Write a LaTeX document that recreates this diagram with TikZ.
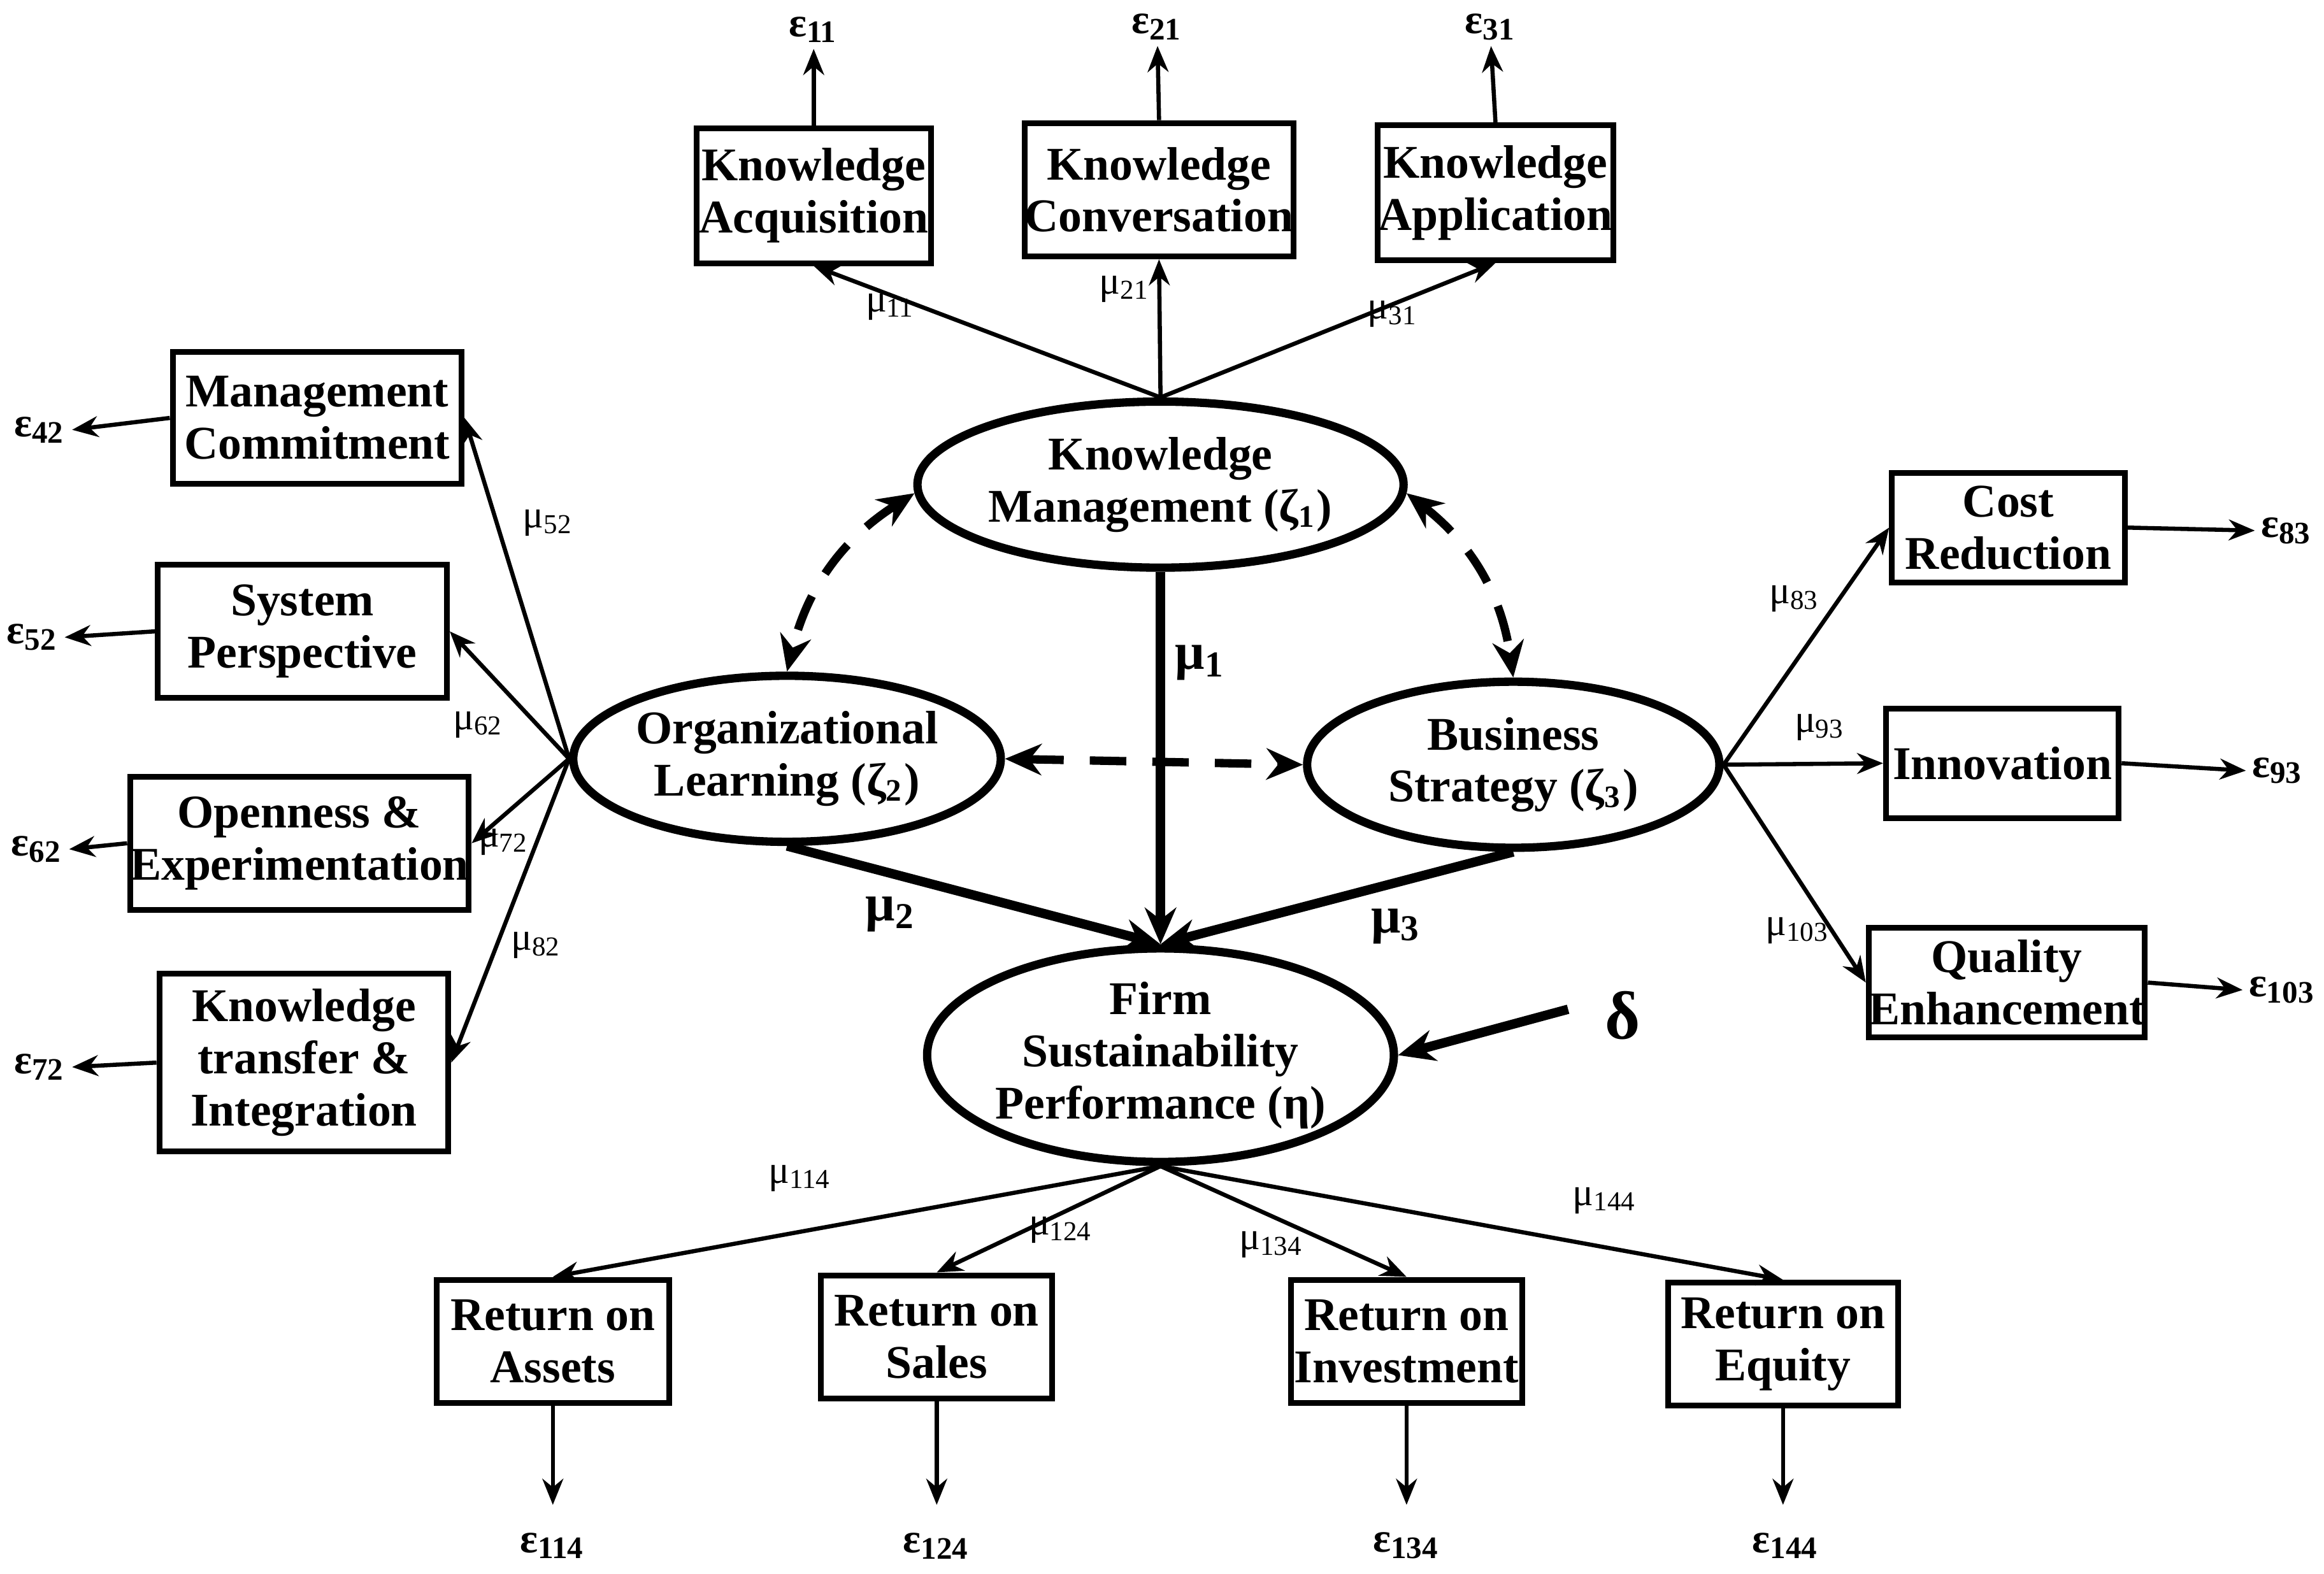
\documentclass[tikz,border=0pt]{standalone}
\usepackage{fontspec}
\setmainfont{Liberation Serif}
\usetikzlibrary{shapes.geometric,arrows.meta}
\begin{document}
\begin{tikzpicture}[x=0.01cm,y=-0.01cm,
  box/.style={draw,line width=1.1pt,align=center,font=\fontsize{9}{10}\selectfont\bfseries,inner sep=0pt},
  lat/.style={draw,ellipse,line width=1.6pt,align=center,font=\fontsize{9}{10}\selectfont\bfseries,inner sep=0pt},
  err/.style={font=\fontsize{8}{9}\selectfont\bfseries,inner sep=1pt},
  lab/.style={font=\fontsize{7.5}{9}\selectfont,inner sep=0pt},
  big/.style={font=\fontsize{10}{11}\selectfont\bfseries,inner sep=0pt},
  ar/.style={-{Stealth[length=5pt,width=4pt]},line width=0.8pt},
  thk/.style={-{Stealth[length=7pt,width=6pt]},line width=1.8pt},
  dsh/.style={{Stealth[length=7pt,width=6pt]}-{Stealth[length=7pt,width=6pt]},line width=1.6pt,dash pattern=on 7pt off 5pt}]
\useasboundingbox (0,0) rectangle (1568,1062);
\def\bx#1#2#3#4#5#6{\node[box,minimum width=#4*0.01cm,minimum height=#5*0.01cm] (#1) at (#2,#3) {#6};}
\bx{ka}{549}{132}{158}{91}{Knowledge\\Acquisition}
\bx{kc}{782}{128}{156}{90}{Knowledge\\Conversation}
\bx{kap}{1009}{130}{159}{91}{Knowledge\\Application}
\bx{mc}{214}{282}{195}{89}{Management\\Commitment}
\bx{sp}{204}{426}{195}{90}{System\\Perspective}
\bx{oe}{202}{569}{195}{90}{Openness \&\\Experimentation}
\bx{kt}{205}{717}{195}{120}{Knowledge\\transfer \&\\Integration}
\bx{cr}{1355}{356}{157}{74}{Cost\\Reduction}
\bx{inn}{1351}{515}{157}{74}{Innovation}
\bx{qe}{1354}{663}{156}{74}{Quality\\Enhancement}
\bx{ra}{373}{905}{157}{83}{Return on\\Assets}
\bx{rs}{632}{902}{156}{83}{Return on\\Sales}
\bx{ri}{949}{905}{156}{83}{Return on\\Investment}
\bx{re}{1203}{907}{155}{83}{Return on\\Equity}
\node[lat,minimum width=2.82cm,minimum height=1.12cm] (km) at (783,327) {Knowledge\\Management (ζ\textsubscript{1})};
\node[lat,minimum width=2.76cm,minimum height=1.12cm] (ol) at (531,512) {Organizational\\Learning (ζ\textsubscript{2})};
\node[lat,minimum width=2.78cm,minimum height=1.12cm] (bs) at (1021,516) {Business\\Strategy (ζ\textsubscript{3})};
\node[lat,minimum width=2.84cm,minimum height=1.44cm] (fsp) at (783,712) {Firm\\Sustainability\\Performance (η)};
% errors
\node[err] (e11) at (549,20) {ε\textsubscript{11}};
\node[err] (e21) at (781,18) {ε\textsubscript{21}};
\node[err] (e31) at (1006,18) {ε\textsubscript{31}};
\node[err] (e42) at (27,290) {ε\textsubscript{42}};
\node[err] (e52) at (22,430) {ε\textsubscript{52}};
\node[err] (e62) at (25,573) {ε\textsubscript{62}};
\node[err] (e72) at (27,720) {ε\textsubscript{72}};
\node[err] (e83) at (1543,358) {ε\textsubscript{83}};
\node[err] (e93) at (1537,520) {ε\textsubscript{93}};
\node[err] (e103) at (1540,668) {ε\textsubscript{103}};
\node[err] (e114) at (373,1043) {ε\textsubscript{114}};
\node[err] (e124) at (632,1043) {ε\textsubscript{124}};
\node[err] (e134) at (949,1043) {ε\textsubscript{134}};
\node[err] (e144) at (1205,1043) {ε\textsubscript{144}};
\draw[ar] (ka.north) -- (e11.south);
\draw[ar] (kc.north) -- (e21.south);
\draw[ar] (kap.north) -- (e31.south);
\draw[ar] (mc.west) -- (e42.east);
\draw[ar] (sp.west) -- (e52.east);
\draw[ar] (oe.west) -- (e62.east);
\draw[ar] (kt.west) -- (e72.east);
\draw[ar] (cr.east) -- (e83.west);
\draw[ar] (inn.east) -- (e93.west);
\draw[ar] (qe.east) -- (e103.west);
\draw[ar] (ra.south) -- ++(0,67);
\draw[ar] (rs.south) -- ++(0,70);
\draw[ar] (ri.south) -- ++(0,67);
\draw[ar] (re.south) -- ++(0,65);
% loadings
\draw[ar] (km.north) -- (ka.south);
\draw[ar] (km.north) -- (kc.south);
\draw[ar] (km.north) -- (kap.south);
\draw[ar] (ol.west) -- (mc.east);
\draw[ar] (ol.west) -- (sp.east);
\draw[ar] (ol.west) -- (oe.east);
\draw[ar] (ol.west) -- (kt.east);
\draw[ar] (bs.east) -- (cr.west);
\draw[ar] (bs.east) -- (inn.west);
\draw[ar] (bs.east) -- (qe.west);
\draw[ar] (fsp.south) -- (ra.north);
\draw[ar] (fsp.south) -- (rs.north);
\draw[ar] (fsp.south) -- (ri.north);
\draw[ar] (fsp.south) -- (re.north);
\node[lab] at (601,207) {μ\textsubscript{11}};
\node[lab] at (759,195) {μ\textsubscript{21}};
\node[lab] at (940,212) {μ\textsubscript{31}};
\node[lab] at (370,353) {μ\textsubscript{52}};
\node[lab] at (323,489) {μ\textsubscript{62}};
\node[lab] at (340,568) {μ\textsubscript{72}};
\node[lab] at (362,638) {μ\textsubscript{82}};
\node[lab] at (1211,404) {μ\textsubscript{83}};
\node[lab] at (1228,491) {μ\textsubscript{93}};
\node[lab] at (1213,628) {μ\textsubscript{103}};
\node[lab] at (540,795) {μ\textsubscript{114}};
\node[lab] at (716,830) {μ\textsubscript{124}};
\node[lab] at (858,840) {μ\textsubscript{134}};
\node[lab] at (1083,810) {μ\textsubscript{144}};
% structural
\draw[thk] (km.south) -- (fsp.north);
\draw[thk] (ol.south) -- (fsp.north);
\draw[thk] (bs.south) -- (fsp.north);
\node[big] at (810,447) {μ\textsubscript{1}};
\node[big] at (601,617) {μ\textsubscript{2}};
\node[big] at (942,625) {μ\textsubscript{3}};
\node[font=\fontsize{13}{14}\selectfont\bfseries,inner sep=0pt] (dl) at (1095,685) {δ};
\coordinate (ds) at (1058,681);
\draw[thk] (ds) -- (fsp.east);
% correlations
\draw[dsh] (km.182) to[bend right=22] (ol.north);
\draw[dsh] (km.358) to[bend left=22] (bs.north);
\draw[dsh] (ol.east) -- (bs.west);
\end{tikzpicture}
\end{document}
